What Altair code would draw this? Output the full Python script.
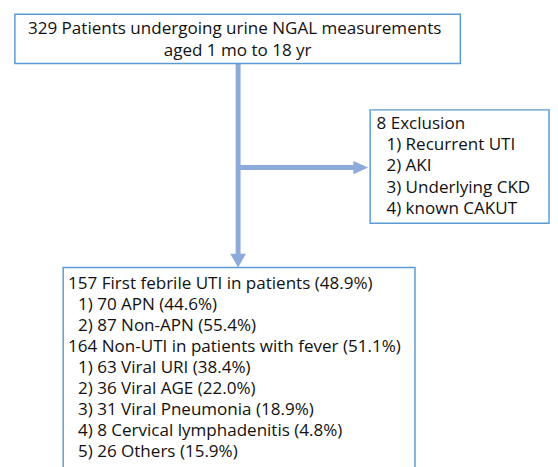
import altair as alt
import pandas as pd

# ---- text content ----
top_lines = ["329 Patients undergoing urine NGAL measurements", "aged 1 mo to 18 yr"]
excl_lines = ["8 Exclusion", "1) Recurrent UTI", "2) AKI", "3) Underlying CKD", "4) known CAKUT"]
excl_indent = [0, 1, 1, 1, 1]
bottom_lines = [
    "157 First febrile UTI in patients (48.9%)",
    "1) 70 APN (44.6%)",
    "2) 87 Non-APN (55.4%)",
    "164 Non-UTI in patients with fever (51.1%)",
    "1) 63 Viral URI (38.4%)",
    "2) 36 Viral AGE (22.0%)",
    "3) 31 Viral Pneumonia (18.9%)",
    "4) 8 Cervical lymphadenitis (4.8%)",
    "5) 26 Others (15.9%)",
]
bottom_indent = [0, 1, 1, 0, 1, 1, 1, 1, 1]

# ---- layout (image pixel coordinates) ----
FONT = "Open Sans"
FS = 17.3
TXT = "#111111"
BOX = "#5B9BD5"
ARROW = "#8EAADB"

boxes = pd.DataFrame({
    "x1": [15, 375.5, 64],
    "x2": [467, 557, 421],
    "y1": [11, 108, 268],
    "y2": [61, 223, 490],
})

xs = alt.Scale(domain=[8, 558], range=[0, 550], nice=False, zero=False)
ys = alt.Scale(domain=[8, 467], range=[0, 459], nice=False, zero=False)

def X(f):
    return alt.X(f, type="quantitative", scale=xs, axis=None)

def Y(f):
    return alt.Y(f, type="quantitative", scale=ys, axis=None)

box_layer = alt.Chart(boxes).mark_rect(fill="white", stroke=BOX, strokeWidth=1.5).encode(
    x=X("x1"), x2="x2", y=Y("y1"), y2="y2"
)

rules = pd.DataFrame({
    "x1": [241.5, 241.5],
    "x2": [241.5, 359],
    "y1": [61, 166.5],
    "y2": [255, 166.5],
})
rule_layer = alt.Chart(rules).mark_rule(color=ARROW, strokeWidth=5).encode(
    x=X("x1"), x2="x2", y=Y("y1"), y2="y2"
)

down_head = alt.Chart(pd.DataFrame({"x": [241.5], "y": [261]})).mark_point(
    shape="M-1,-0.875L1,-0.875L0,0.875Z", filled=True, size=256, color=ARROW, opacity=1, strokeWidth=0
).encode(x=X("x"), y=Y("y"))

right_head = alt.Chart(pd.DataFrame({"x": [366], "y": [166.5]})).mark_point(
    shape="M-1,-0.9L1,0L-1,0.9Z", filled=True, size=225, color=ARROW, opacity=1, strokeWidth=0
).encode(x=X("x"), y=Y("y"))

top_df = pd.DataFrame({"t": top_lines, "x": [238, 241], "y": [26, 48]})
top_text = alt.Chart(top_df).mark_text(
    font=FONT, fontSize=FS, color=TXT, align="center", baseline="middle"
).encode(x=X("x"), y=Y("y"), text="t:N")

ex_df = pd.DataFrame({
    "t": excl_lines,
    "x": [382 + 10 * i for i in excl_indent],
    "y": [122 + 21.7 * i for i in range(len(excl_lines))],
})
ex_text = alt.Chart(ex_df).mark_text(
    font=FONT, fontSize=FS, color=TXT, align="left", baseline="middle"
).encode(x=X("x"), y=Y("y"), text="t:N")

bt_df = pd.DataFrame({
    "t": bottom_lines,
    "x": [69 + 10 * i for i in bottom_indent],
    "y": [284.5 + 21.4 * i for i in range(len(bottom_lines))],
})
bt_text = alt.Chart(bt_df).mark_text(
    font=FONT, fontSize=FS, color=TXT, align="left", baseline="middle"
).encode(x=X("x"), y=Y("y"), text="t:N")

chart = alt.layer(
    rule_layer, down_head, right_head, box_layer, top_text, ex_text, bt_text
).properties(
    width=550, height=459, padding=0, autosize=alt.AutoSizeParams(type="none")
).configure_view(stroke=None)

chart.save("out.html", embed_options={"renderer": "svg", "actions": False})
